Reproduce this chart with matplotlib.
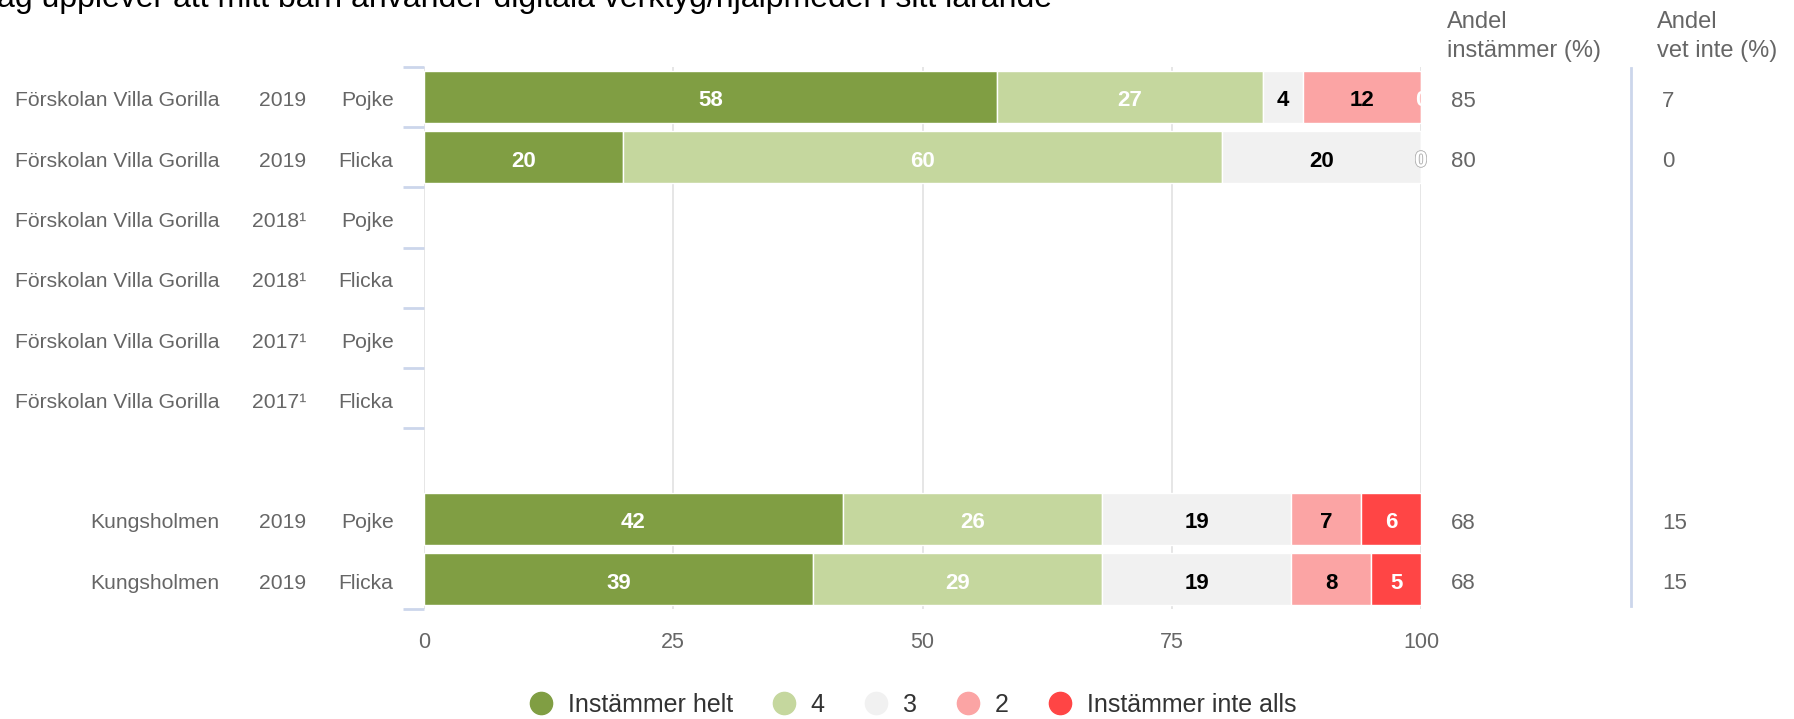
import matplotlib
matplotlib.use('Agg')
import matplotlib.pyplot as plt
from matplotlib.lines import Line2D
from matplotlib import patheffects as pe
from matplotlib.transforms import blended_transform_factory, offset_copy

plt.rcParams['font.family'] = ['Liberation Sans', 'DejaVu Sans']

# ---------------- data ----------------
title = "Jag upplever att mitt barn använder digitala verktyg/hjälpmedel i sitt lärande"
units = ["Förskolan Villa Gorilla"] * 6 + ["", "Kungsholmen", "Kungsholmen"]
years = ["2019", "2019", "2018¹", "2018¹", "2017¹", "2017¹", "", "2019", "2019"]
genders = ["Pojke", "Flicka", "Pojke", "Flicka", "Pojke", "Flicka", "", "Pojke", "Flicka"]

series_names = ["Instämmer helt", "4", "3", "2", "Instämmer inte alls"]
helt = [58, 20, None, None, None, None, None, 42, 39]
s4 = [27, 60, None, None, None, None, None, 26, 29]
s3 = [4, 20, None, None, None, None, None, 19, 19]
s2 = [12, 0, None, None, None, None, None, 7, 8]
inte = [0, 0, None, None, None, None, None, 6, 5]

andel_instammer = [85, 80, None, None, None, None, None, 68, 68]
andel_vet_inte = [7, 0, None, None, None, None, None, 15, 15]

col_headers = [("Andel", "instämmer (%)"), ("Andel", "vet inte (%)")]
x_ticks = [0, 25, 50, 75, 100]
y_tick_bounds = [-0.5, 0.5, 1.5, 2.5, 3.5, 4.5, 5.5, 8.5]

# ---------------- style ----------------
colors = ["#809e43", "#c5d79e", "#f1f1f1", "#fba4a4", "#ff4545"]
label_colors = ["white", "white", "black", "black", "white"]
GREY = "#666666"

W, H = 1794, 719
fig = plt.figure(figsize=(W / 100, H / 100), dpi=100)
ax = fig.add_axes([424 / W, 1 - 609.3 / H, 997 / W, (609.3 - 66.7) / H])

all_series = [helt, s4, s3, s2, inte]
n = len(units)
lab_tr = offset_copy(ax.transData, fig=fig, x=0, y=-1.5, units='dots')
for i in range(n):
    vals = [s[i] for s in all_series]
    if any(v is None for v in vals):
        continue
    total = sum(vals)
    left = 0.0
    n_zero = sum(1 for v in vals if v == 0)
    for k, v in enumerate(vals):
        w = v / total * 100
        ax.barh(i, w, left=left, height=0.87, color=colors[k],
                edgecolor="white", linewidth=1.0, zorder=2)
        cx = left + w / 2
        t = ax.text(cx, i, f"{v}", ha="center", va="center_baseline",
                    fontsize=16, fontweight="bold", color=label_colors[k],
                    zorder=5, transform=lab_tr)
        if v == 0:
            t.set_color("white")
            if n_zero > 1:
                t.set_path_effects([pe.withStroke(linewidth=1.0, foreground="#b0b0b0")])
        left += w

ax.set_xlim(0, 100)
ax.set_ylim(8.5, -0.5)
ax.set_xticks(x_ticks)
ax.set_xticklabels([str(t) for t in x_ticks])
ax.grid(axis="x", color="#e6e6e6", linewidth=1.4, zorder=0)
ax.set_axisbelow(True)
for sp in ax.spines.values():
    sp.set_visible(False)
ax.tick_params(axis="x", length=0, pad=16.5, labelsize=15.5, labelcolor=GREY)
ax.set_yticks(y_tick_bounds)
ax.set_yticklabels([""] * len(y_tick_bounds))
ax.tick_params(axis="y", length=15, width=2.0, color="#ccd6eb", direction="out")

# left category labels
tr = blended_transform_factory(fig.transFigure, ax.transData)
tr = offset_copy(tr, fig=fig, x=0, y=-2, units='dots')
for i in range(n):
    ax.text(219.5 / W, i, units[i], ha="right", va="center_baseline",
            fontsize=15.2, color=GREY, transform=tr)
    ax.text(306.5 / W, i, years[i], ha="right", va="center_baseline",
            fontsize=15.2, color=GREY, transform=tr)
    ax.text(393.5 / W, i, genders[i], ha="right", va="center_baseline",
            fontsize=15.2, color=GREY, transform=tr)

# right columns
col_x = [1451 / W, 1662 / W]
for i in range(n):
    for cx, vals in zip(col_x, [andel_instammer, andel_vet_inte]):
        if vals[i] is not None:
            ax.text(cx, i, str(vals[i]), ha="left", va="center_baseline",
                    fontsize=16, color=GREY, transform=tr)

head_x = [1446.5 / W, 1656.5 / W]
for hx, (l1, l2) in zip(head_x, col_headers):
    fig.text(hx, 1 - 28.5 / H, l1, ha="left", va="baseline", fontsize=17, color=GREY)
    fig.text(hx, 1 - 57 / H, l2, ha="left", va="baseline", fontsize=17, color=GREY)

# separator line between columns
fig.add_artist(Line2D([1630.7 / W] * 2, [1 - 68 / H, 1 - 606 / H],
                      color="#ccd6eb", linewidth=2.0))

# title (cropped at the left edge as in the reference)
fig.text(1052 / W, 1 - 7 / H, title, ha="right", va="baseline",
         fontsize=23, color="black")

# legend
handles = [Line2D([], [], marker="o", linestyle="", markersize=16,
                  markerfacecolor=c, markeredgecolor=c) for c in colors]
fig.legend(handles, series_names, loc="center",
           bbox_to_anchor=(913 / W, 1 - 705 / H), ncol=5, frameon=False,
           fontsize=18, handlelength=0.9, handletextpad=0.6,
           columnspacing=1.62, labelcolor="#333333", borderaxespad=0,
           borderpad=0)

fig.savefig("out.png", dpi=100)
